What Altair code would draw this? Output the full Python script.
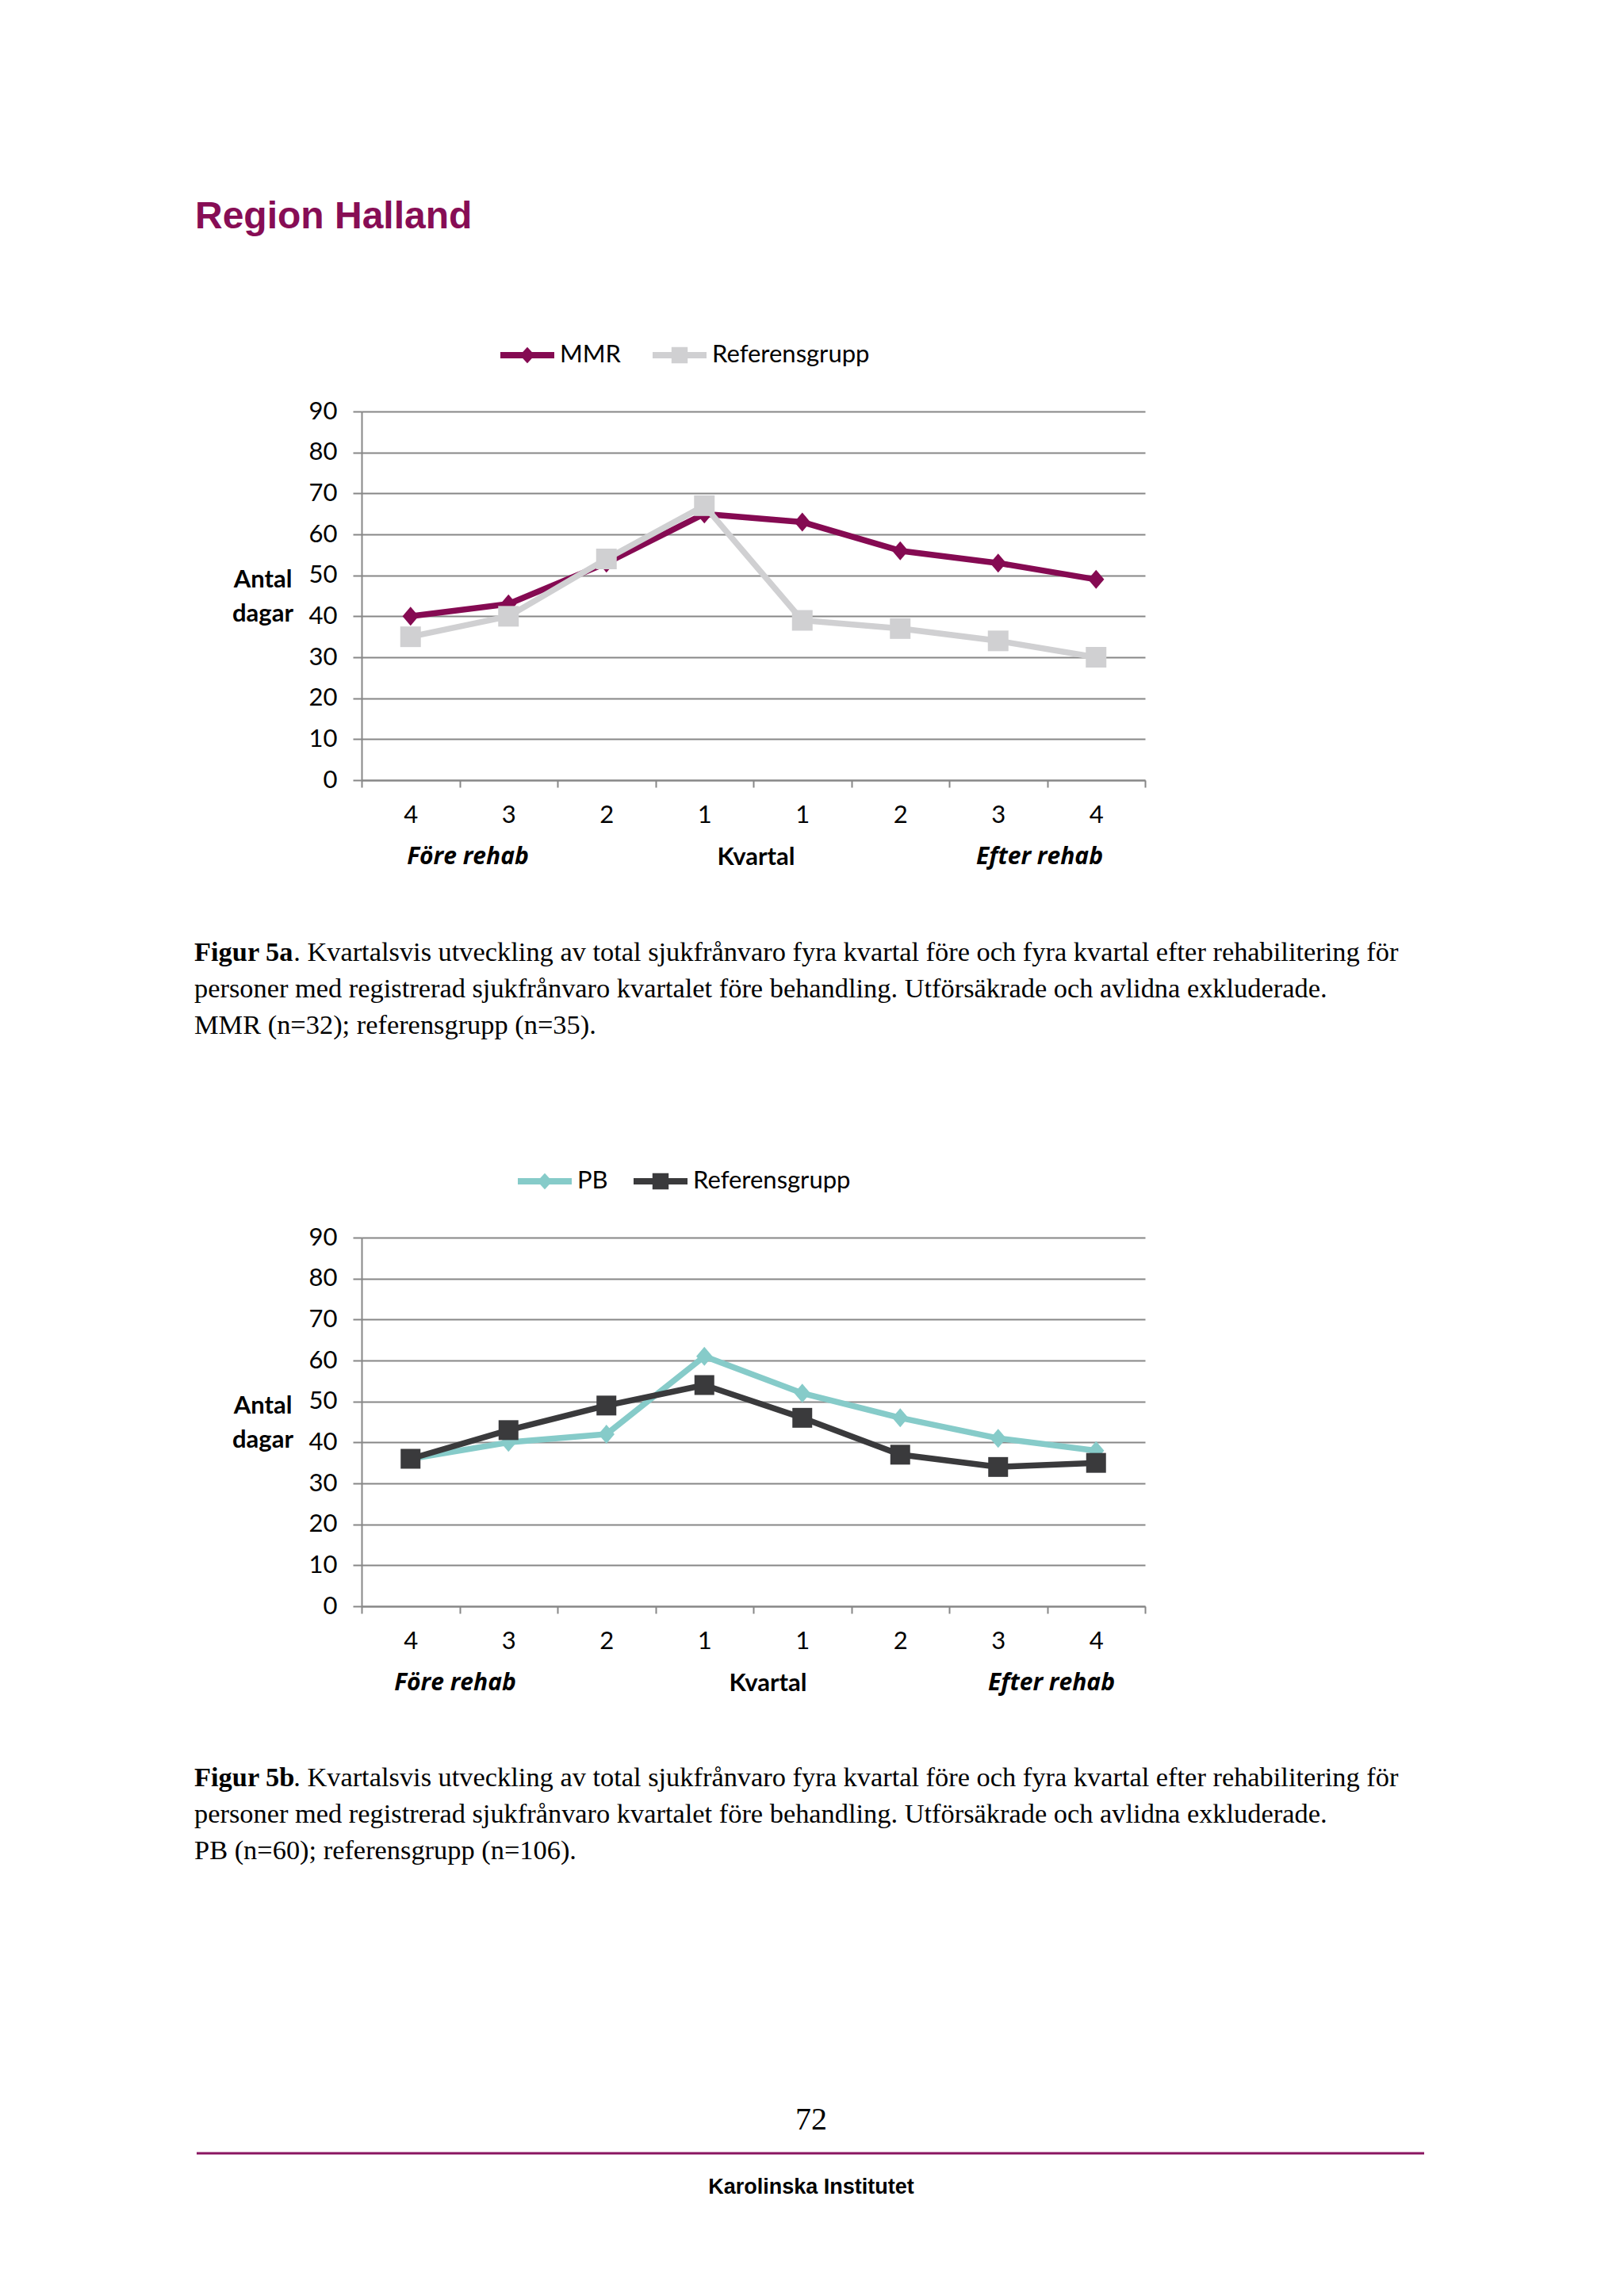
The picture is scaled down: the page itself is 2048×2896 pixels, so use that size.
import altair as alt
import pandas as pd

# ---------------- data ----------------
quarters = ["4", "3", "2", "1", "1", "2", "3", "4"]
phase = ["före", "före", "före", "före", "efter", "efter", "efter", "efter"]
keys = [f"{p} {q}" for p, q in zip(phase, quarters)]

mmr_values = [40, 43, 53, 65, 63, 56, 53, 49]
ref_a_values = [35, 40, 54, 67, 39, 37, 34, 30]
pb_values = [36, 40, 42, 61, 52, 46, 41, 38]
ref_b_values = [36, 43, 49, 54, 46, 37, 34, 35]

series_names_a = ["MMR", "Referensgrupp"]
series_names_b = ["PB", "Referensgrupp"]

page_title = "Region Halland"
caption_a = [
    "Figur 5a",
    ". Kvartalsvis utveckling av total sjukfrånvaro fyra kvartal före och fyra kvartal efter rehabilitering för",
    "personer med registrerad sjukfrånvaro kvartalet före behandling. Utförsäkrade och avlidna exkluderade.",
    "MMR (n=32); referensgrupp (n=35).",
]
caption_b = [
    "Figur 5b",
    ". Kvartalsvis utveckling av total sjukfrånvaro fyra kvartal före och fyra kvartal efter rehabilitering för",
    "personer med registrerad sjukfrånvaro kvartalet före behandling. Utförsäkrade och avlidna exkluderade.",
    "PB (n=60); referensgrupp (n=106).",
]
page_number = "72"
footer = "Karolinska Institutet"
x_title = "Kvartal"
before_label = "Före rehab"
after_label = "Efter rehab"
y_title = ["Antal", "dagar"]

# ---------------- style ----------------
W, H = 988, 465
GRID = "#878787"
FONT = "Lato"
FS = 31
SERIF = "Liberation Serif"
CAP_FS = 34.4
MMR_C = "#850A52"
REFA_C = "#D0D0D2"
PB_C = "#86CBC9"
REFB_C = "#3A3A3C"
TITLE_C = "#870D55"
LINE_C = "#8A1560"
LW = 7.5

DIAMOND_LEG = "M-1,-0.12H1V0.12H-1Z M0,-0.3L0.28,0L0,0.3L-0.28,0Z"
SQUARE_LEG = "M-1,-0.12H1V0.12H-1Z M-0.3,-0.3H0.3V0.3H-0.3Z"
DIAMOND = "M0,-1L0.85,0L0,1L-0.85,0Z"


def df_series(values, name):
    return pd.DataFrame({"kvartal": keys, "dagar": values, "serie": [name] * len(keys)})


def text_df(t):
    return pd.DataFrame({"t": [t]})


def x_enc(title_x):
    return alt.X(
        "kvartal:O",
        sort=keys,
        scale=alt.Scale(type="band", domain=keys, paddingInner=0, paddingOuter=0),
        axis=alt.Axis(
            labelExpr="split(datum.value, ' ')[1]",
            tickBand="extent",
            grid=False,
            domainColor=GRID, domainWidth=2,
            tickColor=GRID, tickWidth=2, tickSize=9,
            labelFont=FONT, labelFontSize=FS, labelColor="black",
            labelAngle=0, labelBaseline="middle", labelPadding=35,
            title=x_title, titleFont=FONT, titleFontSize=FS, titleFontWeight="bold",
            titleColor="black", titleX=title_x, titleY=97,
            titleAlign="center", titleBaseline="middle",
        ),
    )


def y_enc():
    return alt.Y(
        "dagar:Q",
        scale=alt.Scale(domain=[0, 90], nice=False),
        axis=alt.Axis(
            values=list(range(0, 91, 10)),
            grid=True, gridColor=GRID, gridWidth=2,
            domainColor=GRID, domainWidth=2,
            tickColor=GRID, tickWidth=2, tickSize=11,
            labelFont=FONT, labelFontSize=FS, labelColor="black", labelPadding=20,
            title=y_title, titleFont=FONT, titleFontSize=FS, titleFontWeight="bold",
            titleColor="black", titleAngle=0, titleAlign="center", titleBaseline="middle",
            titleX=-125, titleY=212, titleLineHeight=43,
        ),
    )


def series_layers(values, name, color, shape, size, legend_x, legend_path, title_x):
    d = df_series(values, name)
    line = alt.Chart(d).mark_line(color=color, strokeWidth=LW, strokeJoin="round").encode(
        x=x_enc(title_x), y=y_enc()
    )
    pts = alt.Chart(d).mark_point(filled=True, opacity=1, shape=shape, size=size, strokeWidth=0).encode(
        x=x_enc(title_x),
        y=y_enc(),
        color=alt.Color(
            "serie:N",
            scale=alt.Scale(domain=[name], range=[color]),
            legend=alt.Legend(
                title=None, orient="none", legendX=legend_x, legendY=-105,
                symbolType=legend_path, symbolSize=4624, symbolStrokeWidth=0, symbolOpacity=1,
                labelFont=FONT, labelFontSize=FS, labelColor="black", labelOffset=7,
                labelLimit=0, padding=0,
            ),
        ),
    )
    return [line, pts]


def txt(t, x, y, **kw):
    return alt.Chart(text_df(t)).mark_text(**kw).encode(text="t:N", x=alt.value(x), y=alt.value(y))


def caption_layers(cap, y0):
    bold_w = 3.639 * CAP_FS
    x0 = 245 - 456
    common = dict(font=SERIF, fontSize=CAP_FS, align="left", baseline="alphabetic", color="black")
    return [
        txt(cap[0], x0, y0, fontWeight="bold", **common),
        txt(cap[1], x0 + bold_w, y0, **common),
        txt(cap[2], x0, y0 + 46, **common),
        txt(cap[3], x0, y0 + 92, **common),
    ]


def side_labels(x_before, x_after):
    kw = dict(font="Open Sans", fontSize=30, fontWeight="bold", fontStyle="italic",
              align="center", baseline="middle", color="black")
    return [txt(before_label, x_before, 562, **kw), txt(after_label, x_after, 562, **kw)]


# ---------------- panel A ----------------
anchor = alt.Chart(text_df("")).mark_rule(color="white", strokeWidth=1).encode(
    x=alt.value(-447.5), x2=alt.value(-446.5), y=alt.value(-510.5), y2=alt.value(-510.5)
)
title_layer = txt(page_title, -210, -231, font="Liberation Sans", fontSize=48, fontWeight="bold",
                  color=TITLE_C, align="left", baseline="alphabetic")

panel_a = alt.layer(
    anchor,
    title_layer,
    *side_labels(134, 855),
    *caption_layers(caption_a, 693),
    *series_layers(mmr_values, series_names_a[0], MMR_C, DIAMOND, 576, 175, DIAMOND_LEG, 497),
    *series_layers(ref_a_values, series_names_a[1], REFA_C, "square", 676, 367, SQUARE_LEG, 497),
).resolve_scale(color="independent").resolve_legend(color="independent").properties(width=W, height=H)

# ---------------- panel B ----------------
footer_rule = alt.Chart(text_df("")).mark_rule(color=LINE_C, strokeWidth=3).encode(
    x=alt.value(-208), x2=alt.value(1340), y=alt.value(1155), y2=alt.value(1155)
)
panel_b = alt.layer(
    *side_labels(118, 870),
    *caption_layers(caption_b, 692),
    txt(page_number, 567, 1125, font=SERIF, fontSize=40, align="center", baseline="alphabetic", color="black"),
    footer_rule,
    txt(footer, 567, 1206, font="Liberation Sans", fontSize=27, fontWeight="bold",
        align="center", baseline="alphabetic", color="black"),
    *series_layers(pb_values, series_names_b[0], PB_C, DIAMOND, 576, 197, DIAMOND_LEG, 512),
    *series_layers(ref_b_values, series_names_b[1], REFB_C, "square", 625, 343, SQUARE_LEG, 512),
).resolve_scale(color="independent").resolve_legend(color="independent").properties(width=W, height=H)

chart = (
    alt.vconcat(panel_a, panel_b, spacing=577, bounds="flush")
    .resolve_scale(color="independent")
    .resolve_legend(color="independent")
    .properties(padding=0, background="white")
    .configure_view(strokeWidth=0)
)

chart.save("out.html", embed_options={"renderer": "svg", "actions": False})
